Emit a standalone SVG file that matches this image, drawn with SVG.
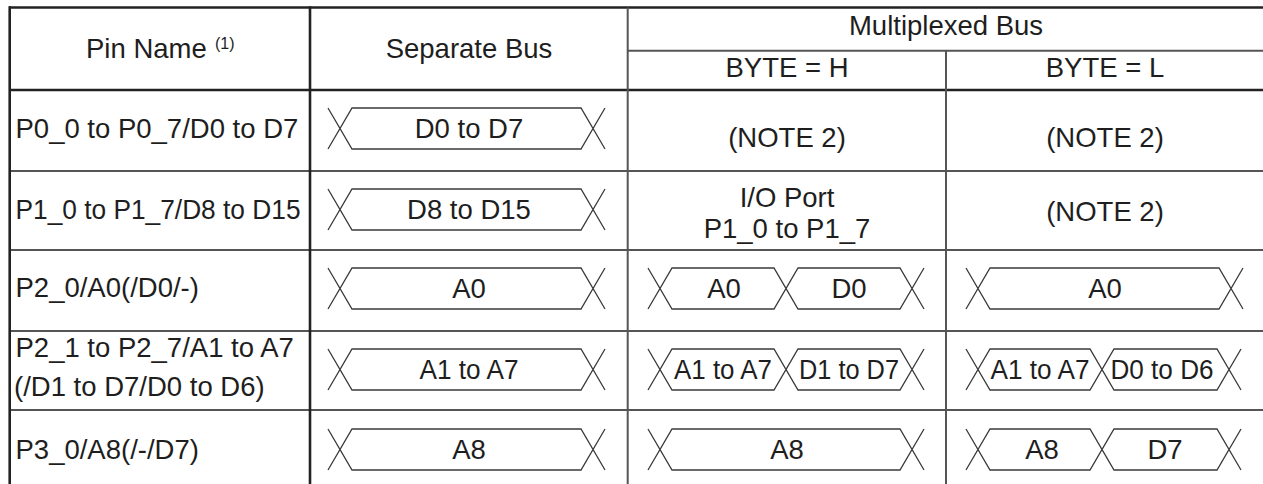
<svg xmlns="http://www.w3.org/2000/svg" width="1263" height="484" viewBox="0 0 1263 484">
<style>
.t{font-family:"Liberation Sans",Arial,Helvetica,sans-serif;font-size:27.5px;fill:#1e1e1e}
.c{text-anchor:middle}
.sup{font-size:16px}
.thick{stroke:#222;stroke-width:2.6;fill:none}
.thin{stroke:#555;stroke-width:2;fill:none}
.w{stroke:#3a3a3a;stroke-width:1.3;fill:none;stroke-linejoin:miter}
</style>
<rect width="1263" height="484" fill="#fff"/>
<g id="grid">
<line class="thick" x1="9" y1="7.5" x2="1263" y2="7.5"/>
<line class="thin" x1="627.7" y1="50.7" x2="1263" y2="50.7"/>
<line class="thick" x1="9" y1="90" x2="1263" y2="90"/>
<line class="thin" x1="9" y1="171" x2="1263" y2="171"/>
<line class="thin" x1="9" y1="250" x2="1263" y2="250"/>
<line class="thin" x1="9" y1="331" x2="1263" y2="331"/>
<line class="thin" x1="9" y1="410" x2="1263" y2="410"/>
<line class="thick" x1="9.7" y1="6.2" x2="9.7" y2="484"/>
<line class="thick" x1="310" y1="6.2" x2="310" y2="484"/>
<line class="thin" x1="627.7" y1="7.5" x2="627.7" y2="484"/>
<line class="thin" x1="946" y1="50.7" x2="946" y2="484"/>
</g>
<g id="header">
<text class="t" x="86" y="58">Pin Name</text>
<text class="t sup" x="215" y="48.5">(1)</text>
<text class="t c" x="469" y="58">Separate Bus</text>
<text class="t c" x="946" y="35">Multiplexed Bus</text>
<text class="t c" x="787" y="77">BYTE = H</text>
<text class="t c" x="1105" y="77">BYTE = L</text>
</g>
<g id="row1">
<text class="t" x="15.5" y="138">P0_0 to P0_7/D0 to D7</text>
<path class="w" d="M328,108 L352,149 L581,149 L605,108 M328,149 L352,108 L581,108 L605,149"/>
<text class="t c" x="469" y="138">D0 to D7</text>
<text class="t c" x="787" y="147">(NOTE 2)</text>
<text class="t c" x="1105" y="147">(NOTE 2)</text>
</g>
<g id="row2">
<text class="t" x="15.5" y="219" textLength="285" lengthAdjust="spacingAndGlyphs">P1_0 to P1_7/D8 to D15</text>
<path class="w" d="M328,189 L352,230 L581,230 L605,189 M328,230 L352,189 L581,189 L605,230"/>
<text class="t c" x="469" y="219">D8 to D15</text>
<text class="t c" x="787" y="207">I/O Port</text>
<text class="t c" x="787" y="238">P1_0 to P1_7</text>
<text class="t c" x="1105" y="221">(NOTE 2)</text>
</g>
<g id="row3">
<text class="t" x="15.5" y="297">P2_0/A0(/D0/-)</text>
<path class="w" d="M328,268 L352,309 L581,309 L605,268 M328,309 L352,268 L581,268 L605,309"/>
<text class="t c" x="469" y="298">A0</text>
<path class="w" d="M648,268 L672,309 L774,309 L798,268 L900,268 L924,309 M648,309 L672,268 L774,268 L798,309 L900,309 L924,268"/>
<text class="t c" x="724" y="298">A0</text>
<text class="t c" x="849" y="298">D0</text>
<path class="w" d="M966,268 L990,309 L1219,309 L1243,268 M966,309 L990,268 L1219,268 L1243,309"/>
<text class="t c" x="1105" y="298">A0</text>
</g>
<g id="row4">
<text class="t" x="15.5" y="357">P2_1 to P2_7/A1 to A7</text>
<text class="t" x="14" y="396">(/D1 to D7/D0 to D6)</text>
<path class="w" d="M328,349 L352,390 L581,390 L605,349 M328,390 L352,349 L581,349 L605,390"/>
<text class="t c" x="469" y="379" textLength="99" lengthAdjust="spacingAndGlyphs">A1 to A7</text>
<path class="w" d="M648,349 L672,390 L774,390 L798,349 L900,349 L924,390 M648,390 L672,349 L774,349 L798,390 L900,390 L924,349"/>
<text class="t c" x="723" y="379" textLength="98" lengthAdjust="spacingAndGlyphs">A1 to A7</text>
<text class="t c" x="849" y="379" textLength="100" lengthAdjust="spacingAndGlyphs">D1 to D7</text>
<path class="w" d="M966,349 L990,390 L1090,390 L1114,349 L1217,349 L1241,390 M966,390 L990,349 L1090,349 L1114,390 L1217,390 L1241,349"/>
<text class="t c" x="1040" y="379" textLength="99" lengthAdjust="spacingAndGlyphs">A1 to A7</text>
<text class="t c" x="1162" y="379" textLength="103" lengthAdjust="spacingAndGlyphs">D0 to D6</text>
</g>
<g id="row5">
<text class="t" x="15.5" y="459">P3_0/A8(/-/D7)</text>
<path class="w" d="M328,429 L352,470 L581,470 L605,429 M328,470 L352,429 L581,429 L605,470"/>
<text class="t c" x="469" y="459">A8</text>
<path class="w" d="M648,429 L672,470 L900,470 L924,429 M648,470 L672,429 L900,429 L924,470"/>
<text class="t c" x="787" y="459">A8</text>
<path class="w" d="M966,429 L990,470 L1090,470 L1114,429 L1217,429 L1241,470 M966,470 L990,429 L1090,429 L1114,470 L1217,470 L1241,429"/>
<text class="t c" x="1042" y="459">A8</text>
<text class="t c" x="1165" y="459">D7</text>
</g>
</svg>
